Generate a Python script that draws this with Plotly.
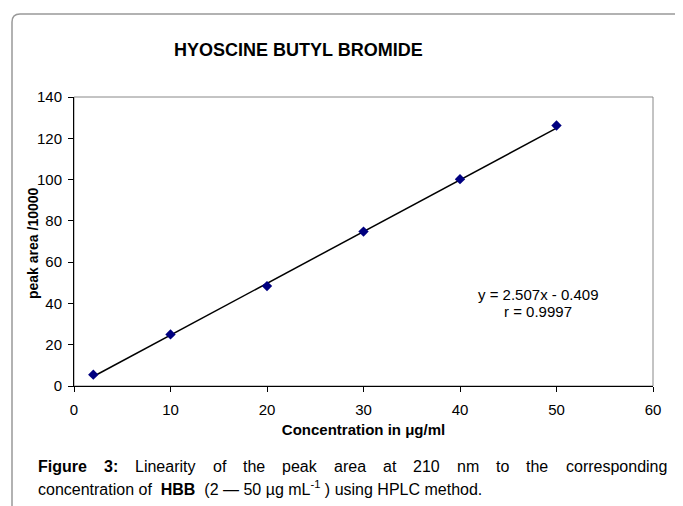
import plotly.graph_objects as go
import numpy as np

# ---- data ----
conc = [2, 10, 20, 30, 40, 50]
peak_area = [5.5, 25.0, 48.4, 74.8, 100.2, 126.2]
slope = 2.507
intercept = -0.409
r_value = 0.9997
x_ticks = [0, 10, 20, 30, 40, 50, 60]
y_ticks = [0, 20, 40, 60, 80, 100, 120, 140]

# page offset (default body margin) compensation
OFF = 8
W, H = 675, 498
L, R, T, B = 66, 30, 89, 120
PW, PH = W - L - R, H - T - B


def px(xp):  # screen x pixel -> paper
    return (xp - OFF - L) / PW


def py(yp):  # screen y pixel -> paper
    return (H - B - (yp - OFF)) / PH


FONT = "Liberation Sans, Arial, sans-serif"

fit_x = np.array([min(conc), max(conc)], dtype=float)
fit_y = slope * fit_x + intercept

fig = go.Figure()
fig.add_trace(go.Scatter(x=fit_x, y=fit_y, mode="lines",
                         line=dict(color="black", width=1.5),
                         hoverinfo="skip", showlegend=False))
fig.add_trace(go.Scatter(x=conc, y=peak_area, mode="markers",
                         marker=dict(symbol="diamond", size=8, color="#000080"),
                         showlegend=False))

fig.update_layout(
    width=W, height=H,
    margin=dict(l=L, r=R, t=T, b=B),
    paper_bgcolor="white", plot_bgcolor="white",
    font=dict(family=FONT, color="black", size=14),
    xaxis=dict(range=[0, 60], tickvals=x_ticks, showgrid=False, zeroline=False,
               showline=True, linecolor="black", linewidth=1,
               ticks="outside", ticklen=5, tickcolor="black",
               tickfont=dict(size=15), ticklabelstandoff=5,
               title=dict(text="<b>Concentration in μg/ml</b>", font=dict(size=15), standoff=7)),
    yaxis=dict(range=[0, 140], tickvals=y_ticks, showgrid=False, zeroline=False,
               showline=True, linecolor="black", linewidth=1,
               ticks="outside", ticklen=5, tickcolor="black",
               tickfont=dict(size=15), ticklabelstandoff=3),
)

shapes = []
# plot-area frame (gray top/right)
shapes.append(dict(type="rect", xref="paper", yref="paper", x0=0, y0=0, x1=1, y1=1,
                   line=dict(color="#888888", width=1), layer="below"))
# outer rounded box (left and top edges)
bx, by, rad = 12, 14, 8
path = (f"M {px(bx)},{py(H + 40)} L {px(bx)},{py(by + rad)} "
        f"Q {px(bx)},{py(by)} {px(bx + rad)},{py(by)} L {px(W + 40)},{py(by)}")
shapes.append(dict(type="path", xref="paper", yref="paper", path=path,
                   line=dict(color="#999999", width=1.5)))
fig.update_layout(shapes=shapes)

ann = []
ann.append(dict(text="<b>HYOSCINE BUTYL BROMIDE</b>", x=px(298), y=py(50),
                xref="paper", yref="paper", showarrow=False, font=dict(size=18),
                xanchor="center", yanchor="middle"))
ann.append(dict(text="<b>peak area /10000</b>", x=px(33), y=py(243), textangle=-90,
                xref="paper", yref="paper", showarrow=False, font=dict(size=14),
                xanchor="center", yanchor="middle"))
ann.append(dict(text=f"y = {slope}x - {abs(intercept)}", x=px(538), y=py(294),
                xref="paper", yref="paper", showarrow=False, font=dict(size=15),
                xanchor="center", yanchor="middle"))
ann.append(dict(text=f"r = {r_value}", x=px(538), y=py(311),
                xref="paper", yref="paper", showarrow=False, font=dict(size=15),
                xanchor="center", yanchor="middle"))

# caption line 1 (justified -> per-word placement)
words1 = ["<b>Figure</b>", "<b>3:</b>", "Linearity", "of", "the", "peak", "area",
          "at", "210", "nm", "to", "the", "corresponding"]
starts1 = [36, 102, 133, 210.5, 241, 280, 332, 381, 411, 455, 494, 524, 563.5]
for w, s in zip(words1, starts1):
    ann.append(dict(text=w, x=px(s), y=py(466), xref="paper", yref="paper",
                    showarrow=False, font=dict(size=16), xanchor="left", yanchor="middle"))
ann.append(dict(text="concentration of  <b>HBB</b>  (2 ― 50 µg mL<sup>-1</sup> ) using HPLC method.",
                x=px(36), y=py(488), xref="paper", yref="paper", showarrow=False,
                font=dict(size=16), xanchor="left", yanchor="middle"))
fig.update_layout(annotations=ann)

fig.write_html("out.html")
